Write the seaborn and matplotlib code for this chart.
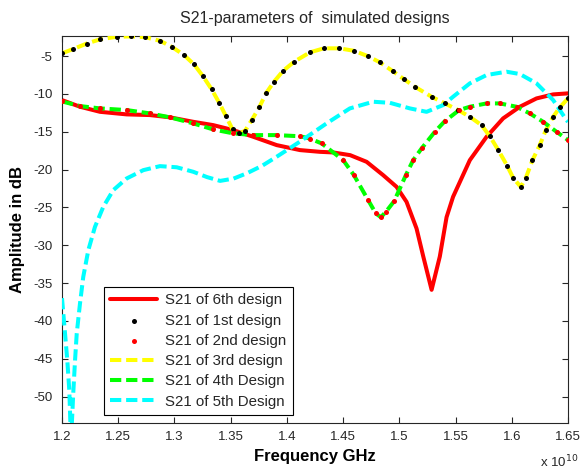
import matplotlib
matplotlib.use("Agg")
import matplotlib.pyplot as plt
import seaborn as sns
import numpy as np

# ---------------- data (frequency in units of 1e10 Hz, amplitude in dB) ----------------
freq_1st = [1.2000, 1.2100, 1.2220, 1.2338, 1.2486, 1.2611, 1.2738, 1.2871, 1.2975, 1.3085,
            1.3174, 1.3253, 1.3331, 1.3398, 1.3458, 1.3517, 1.3574, 1.3627, 1.3686, 1.3754,
            1.3814, 1.3885, 1.3967, 1.4065, 1.4205, 1.4329, 1.4465, 1.4596, 1.4718, 1.4827,
            1.4940, 1.5043, 1.5138, 1.5287, 1.5405, 1.5523, 1.5627, 1.5731, 1.5805, 1.5879,
            1.5959, 1.6012, 1.6080, 1.6125, 1.6184, 1.6249, 1.6303, 1.6368, 1.6427, 1.6500]
s21_1st = [-4.64, -4.07, -3.35, -2.79, -2.45, -2.40, -2.50, -2.98, -3.77, -4.87,
           -6.10, -7.65, -9.40, -11.18, -12.94, -14.70, -15.20, -14.90, -13.50, -11.79,
           -9.93, -8.40, -6.94, -5.75, -4.51, -3.98, -3.98, -4.30, -5.00, -5.83,
           -6.98, -8.08, -9.06, -10.38, -11.26, -12.14, -13.03, -14.13, -15.60, -17.40,
           -19.50, -21.10, -22.30, -21.10, -18.76, -16.77, -14.79, -13.03, -11.79, -10.60]
freq_3rd = list(freq_1st)
s21_3rd = list(s21_1st)

freq_2nd = [1.2000, 1.2160, 1.2338, 1.2575, 1.2782, 1.2960, 1.3167, 1.3345, 1.3523, 1.3701,
            1.3909, 1.4116, 1.4205, 1.4309, 1.4501, 1.4596, 1.4723, 1.4791, 1.4836, 1.4880,
            1.4954, 1.5058, 1.5123, 1.5198, 1.5316, 1.5405, 1.5532, 1.5627, 1.5776, 1.5894,
            1.6042, 1.6160, 1.6279, 1.6398, 1.6500]
s21_2nd = [-11.00, -11.61, -11.92, -12.14, -12.58, -13.10, -13.90, -14.70, -15.22, -15.45,
           -15.45, -15.60, -15.90, -16.55, -18.76, -20.74, -24.05, -25.81, -26.30, -25.60,
           -24.18, -20.74, -18.76, -17.21, -15.01, -13.60, -12.14, -11.70, -11.26, -11.26,
           -11.70, -12.58, -13.69, -15.01, -16.11]
freq_4th = list(freq_2nd)
s21_4th = list(s21_2nd)

freq_6th = [1.2000, 1.2160, 1.2338, 1.2575, 1.2782, 1.2960, 1.3167, 1.3345, 1.3523, 1.3701,
            1.3909, 1.4116, 1.4294, 1.4412, 1.4563, 1.4709, 1.4856, 1.4975, 1.5064, 1.5153,
            1.5213, 1.5287, 1.5360, 1.5420, 1.5478, 1.5627, 1.5776, 1.5923, 1.6072, 1.6220,
            1.6368, 1.6500]
s21_6th = [-10.82, -11.70, -12.37, -12.71, -12.80, -13.10, -13.69, -14.13, -14.79, -15.67,
           -16.77, -17.43, -17.66, -17.74, -18.10, -18.98, -20.74, -22.28, -24.27, -27.79,
           -31.50, -35.90, -31.50, -26.30, -23.60, -18.76, -15.67, -13.24, -11.70, -10.60,
           -10.07, -9.93]

freq_5th = [1.2000, 1.2027, 1.2047, 1.2065, 1.2080, 1.2100, 1.2116, 1.2131, 1.2160, 1.2189,
            1.2234, 1.2293, 1.2367, 1.2456, 1.2575, 1.2723, 1.2871, 1.3020, 1.3168, 1.3290,
            1.3406, 1.3525, 1.3643, 1.3780, 1.3910, 1.4117, 1.4353, 1.4560, 1.4767, 1.4916,
            1.5094, 1.5242, 1.5390, 1.5478, 1.5627, 1.5776, 1.5953, 1.6072, 1.6220, 1.6368,
            1.6487, 1.6500]
s21_5th = [-37.00, -41.68, -45.20, -49.20, -56.00, -49.60, -45.21, -41.68, -37.71, -34.19,
           -30.66, -27.58, -24.93, -22.72, -21.18, -20.08, -19.55, -19.70, -20.30, -21.00,
           -21.50, -21.20, -20.50, -19.50, -18.30, -16.30, -13.90, -11.92, -11.04, -11.18,
           -11.92, -12.37, -11.48, -10.38, -8.61, -7.51, -7.07, -7.38, -8.61, -10.82,
           -13.47, -13.70]

x_ticks = [1.2, 1.25, 1.3, 1.35, 1.4, 1.45, 1.5, 1.55, 1.6, 1.65]
x_tick_labels = ["1.2", "1.25", "1.3", "1.35", "1.4", "1.45", "1.5", "1.55", "1.6", "1.65"]
y_ticks = [-50, -45, -40, -35, -30, -25, -20, -15, -10, -5]
y_tick_labels = ["-50", "-45", "-40", "-35", "-30", "-25", "-20", "-15", "-10", "-5"]

labels = ["S21 of 6th design", "S21 of 1st design", "S21 of 2nd design",
          "S21 of 3rd design", "S21 of 4th Design", "S21 of 5th Design"]

# ---------------- style ----------------
sns.set_theme(style="ticks")
plt.rcParams["font.family"] = ["Liberation Sans", "DejaVu Sans"]
plt.rcParams["axes.linewidth"] = 0.8

fig = plt.figure(figsize=(5.83, 4.74), dpi=100)
fig.patch.set_facecolor("white")
ax = fig.add_axes([62 / 583, 1 - 423 / 474, 506 / 583, 387 / 474])
ax.set_facecolor("white")

LW = 2.9
DASH = (2.8, 1.2)

sns.lineplot(x=freq_6th, y=s21_6th, ax=ax, color="#ff0000", linewidth=LW,
             estimator=None, sort=False, label=labels[0], zorder=2)
sns.scatterplot(x=freq_1st, y=s21_1st, ax=ax, color="black", marker="o", s=13,
                linewidth=0, label=labels[1], zorder=6)
sns.scatterplot(x=freq_2nd, y=s21_2nd, ax=ax, color="#ff0000", marker="o", s=13,
                linewidth=0, label=labels[2], zorder=6)
sns.lineplot(x=freq_3rd, y=s21_3rd, ax=ax, color="#ffff00", linewidth=LW,
             estimator=None, sort=False, label=labels[3], zorder=3)
ax.lines[-1].set_dashes(DASH)
sns.lineplot(x=freq_4th, y=s21_4th, ax=ax, color="#00ff00", linewidth=LW,
             estimator=None, sort=False, label=labels[4], zorder=3)
ax.lines[-1].set_dashes(DASH)
sns.lineplot(x=freq_5th, y=s21_5th, ax=ax, color="#00ffff", linewidth=LW,
             estimator=None, sort=False, label=labels[5], zorder=3)
ax.lines[-1].set_dashes(DASH)

ax.set_xlim(1.2, 1.65)
ax.set_ylim(-53.5, -2.35)
ax.set_xticks(x_ticks)
ax.set_xticklabels(x_tick_labels)
ax.set_yticks(y_ticks)
ax.set_yticklabels(y_tick_labels)

for sp in ax.spines.values():
    sp.set_visible(True)
    sp.set_color("#262626")
    sp.set_linewidth(0.8)

ax.tick_params(axis="both", which="major", direction="in", length=4, width=0.8,
               top=True, right=True, labelsize=9.5, colors="#262626", labelcolor="#262626")
ax.tick_params(axis="y", pad=7)
ax.tick_params(axis="x", pad=6)

ax.set_title("S21-parameters of  simulated designs", fontsize=11.5, color="#262626", pad=9)
ax.set_xlabel("Frequency GHz", fontsize=12, fontweight="bold", color="black", labelpad=4)
ax.set_ylabel("Amplitude in dB", fontsize=12, fontweight="bold", color="black", labelpad=6)

fig.text(540 / 583, 1 - 467 / 474, "x 10$^{10}$", fontsize=9.5, color="#262626",
         ha="left", va="baseline")

leg = ax.legend(loc="lower left", bbox_to_anchor=((104 - 62) / 506, (423 - 415) / 387),
                fontsize=10.8, frameon=True, fancybox=False, framealpha=1,
                edgecolor="black", handlelength=3.1, handletextpad=0.55,
                labelspacing=0.42, borderpad=0.42, borderaxespad=0, markerscale=1.0)
leg.get_frame().set_linewidth(0.8)
leg.set_zorder(10)

fig.savefig("out.png", dpi=100, facecolor="white")
